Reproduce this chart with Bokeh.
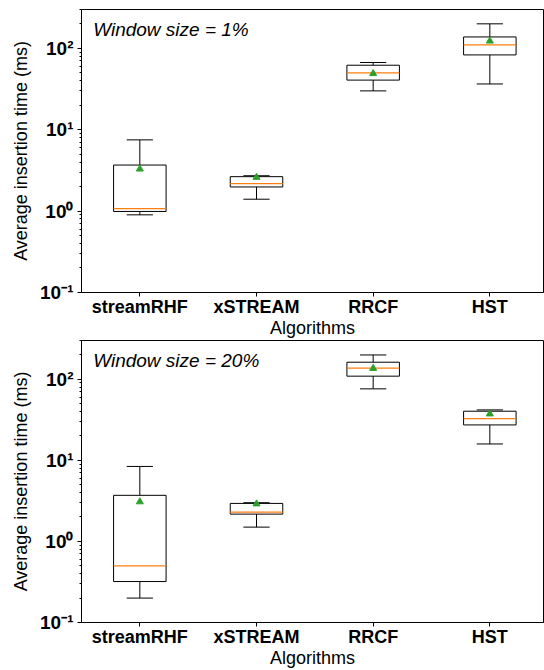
import numpy as np
from bokeh.plotting import figure
from bokeh.models import Range1d, FixedTicker, Label, ColumnDataSource
from bokeh.layouts import column
from bokeh.embed import file_html
from bokeh.resources import INLINE

algorithms = ["streamRHF", "xSTREAM", "RRCF", "HST"]
y_ticks = [0.1, 1, 10, 100]
y_tick_labels = ["10⁻¹", "10⁰", "10¹", "10²"]
panel_titles = ["Window size = 1%", "Window size = 20%"]

# Window size = 1%
w1_low = [0.90, 1.40, 30.0, 36.5]
w1_q1 = [0.99, 1.98, 40.7, 83.0]
w1_median = [1.07, 2.18, 50.0, 110.0]
w1_q3 = [3.68, 2.65, 62.0, 138.0]
w1_high = [7.5, 2.72, 67.0, 200.0]
w1_mean = [3.29, 2.60, 49.0, 123.0]

# Window size = 20%
w20_low = [0.20, 1.50, 76.0, 15.9]
w20_q1 = [0.32, 2.17, 109.0, 27.3]
w20_median = [0.50, 2.30, 137.0, 32.7]
w20_q3 = [3.70, 2.94, 162.0, 40.3]
w20_high = [8.4, 3.00, 199.0, 41.8]
w20_mean = [3.08, 2.90, 136.0, 37.3]

FONT = "Liberation Sans"
BOX_HALF = 0.225
CAP_HALF = 0.1125


def make_panel(title, low, q1, med, q3, high, mean, top_border, frame_h):
    p = figure(
        frame_width=462, frame_height=frame_h,
        y_axis_type="log",
        x_range=Range1d(0.5, 4.46), y_range=Range1d(0.1, 300),
        output_backend="svg", toolbar_location=None,
        min_border_left=81, min_border_right=1,
        min_border_top=top_border, min_border_bottom=0,
    )
    p.grid.visible = False
    p.outline_line_color = "black"
    p.outline_line_width = 1
    p.background_fill_color = "white"
    p.border_fill_color = "white"

    xs = np.arange(1, len(algorithms) + 1, dtype=float)
    src = ColumnDataSource(dict(
        x=xs, left=xs - BOX_HALF, right=xs + BOX_HALF,
        cl=xs - CAP_HALF, cr=xs + CAP_HALF,
        low=low, q1=q1, med=med, q3=q3, high=high, mean=mean,
    ))
    p.segment(x0="x", y0="q3", x1="x", y1="high", source=src, line_color="black", line_width=1)
    p.segment(x0="x", y0="q1", x1="x", y1="low", source=src, line_color="black", line_width=1)
    p.segment(x0="cl", y0="high", x1="cr", y1="high", source=src, line_color="black", line_width=1)
    p.segment(x0="cl", y0="low", x1="cr", y1="low", source=src, line_color="black", line_width=1)
    p.quad(left="left", right="right", bottom="q1", top="q3", source=src,
           fill_color=None, line_color="black", line_width=1)
    p.segment(x0="left", y0="med", x1="right", y1="med", source=src,
              line_color="#ff7f0e", line_width=1.3)
    p.scatter(x="x", y="mean", source=src, marker="triangle", size=7,
              fill_color="#2ca02c", line_color="#2ca02c")

    xa = p.xaxis[0]
    xa.ticker = FixedTicker(ticks=list(xs))
    overrides = {float(v): a for v, a in zip(xs, algorithms)}
    overrides.update({int(v): a for v, a in zip(xs, algorithms)})
    xa.major_label_overrides = overrides
    xa.minor_tick_line_color = None
    xa.major_tick_out = 4
    xa.major_tick_in = 0
    xa.major_label_standoff = 0
    xa.major_label_text_font = FONT
    xa.major_label_text_font_style = "bold"
    xa.major_label_text_font_size = "18px"
    xa.major_label_text_color = "black"
    xa.axis_label = "Algorithms"
    xa.axis_label_text_font = FONT
    xa.axis_label_text_font_style = "normal"
    xa.axis_label_text_font_size = "18px"
    xa.axis_label_text_color = "black"
    xa.axis_label_standoff = -2
    xa.axis_line_color = "black"

    ya = p.yaxis[0]
    ya.ticker = FixedTicker(ticks=y_ticks,
                            minor_ticks=[m * 10.0 ** e for e in range(-1, 3) for m in range(2, 10)])
    yov = {v: t for v, t in zip(y_ticks, y_tick_labels)}
    yov.update({1: "10⁰", 10: "10¹", 100: "10²"})
    ya.major_label_overrides = yov
    ya.major_tick_out = 4
    ya.major_tick_in = 0
    ya.minor_tick_out = 2
    ya.minor_tick_in = 0
    ya.major_label_standoff = 4
    ya.major_label_text_font = FONT
    ya.major_label_text_font_style = "bold"
    ya.major_label_text_font_size = "19px"
    ya.major_label_text_color = "black"
    ya.axis_label = "Average insertion time (ms)"
    ya.axis_label_text_font = FONT
    ya.axis_label_text_font_style = "normal"
    ya.axis_label_text_font_size = "18px"
    ya.axis_label_text_color = "black"
    ya.axis_label_standoff = 6
    ya.axis_line_color = "black"

    p.add_layout(Label(x=0.6, y=10 ** 2.23, text=title, text_font=FONT,
                       text_font_style="italic", text_font_size="19px",
                       text_color="black", text_baseline="alphabetic"))
    return p


p1 = make_panel(panel_titles[0], w1_low, w1_q1, w1_median, w1_q3, w1_high, w1_mean, 9, 283)
p2 = make_panel(panel_titles[1], w20_low, w20_q1, w20_median, w20_q3, w20_high, w20_mean, 0, 282)

layout = column(p1, p2, spacing=0)
open("out.html", "w").write(file_html(layout, INLINE))
